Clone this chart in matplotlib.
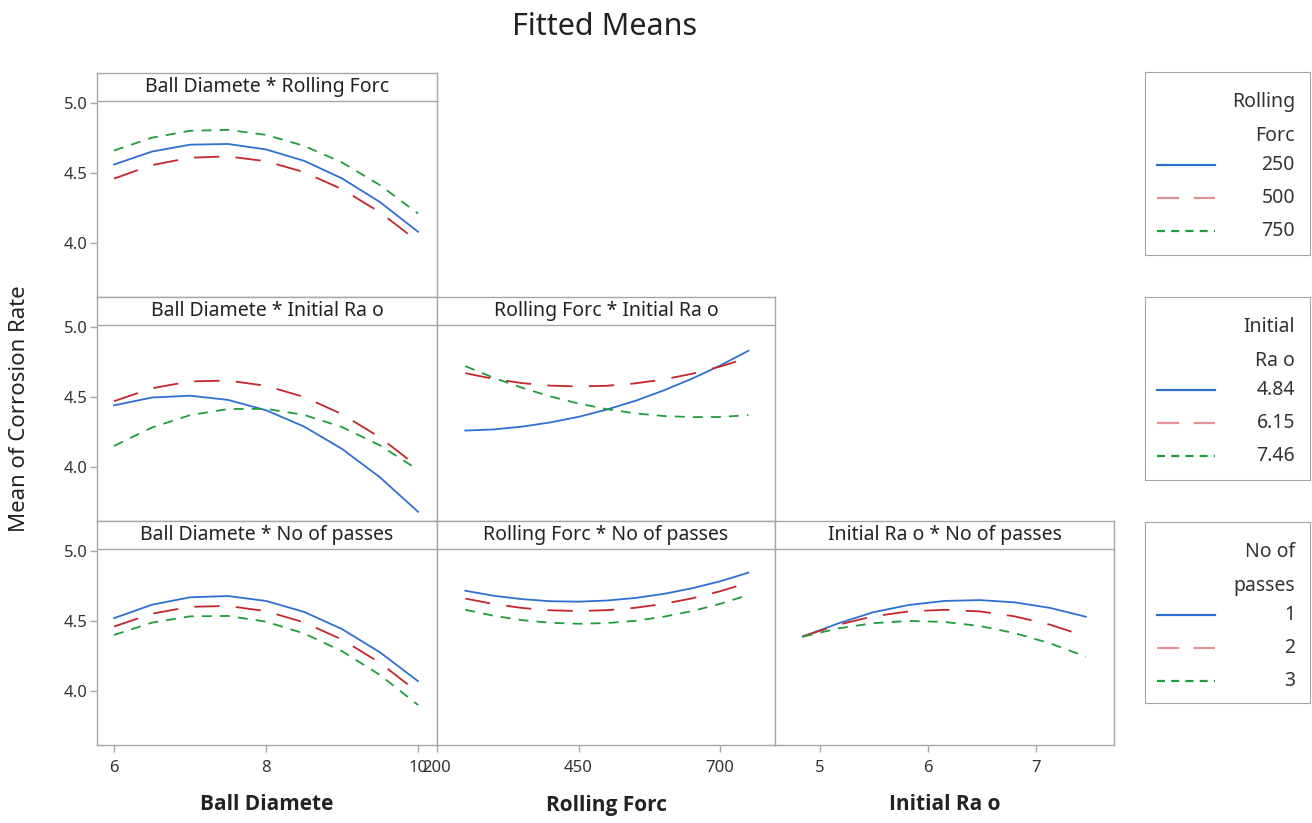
import numpy as np
import matplotlib.pyplot as plt

plt.rcParams['font.family'] = ['Noto Sans', 'DejaVu Sans']

# factor settings along each x axis
ball_d = [6.0, 6.5, 7.0, 7.5, 8.0, 8.5, 9.0, 9.5, 10.0]
rolling_f = [250, 300, 350, 400, 450, 500, 550, 600, 650, 700, 750]
init_ra = [4.84, 5.17, 5.49, 5.82, 6.15, 6.48, 6.80, 7.13, 7.46]

# legend levels
rf_levels = ['250', '500', '750']
ra_levels = ['4.84', '6.15', '7.46']
pass_levels = ['1', '2', '3']

# Ball Diamete * Rolling Forc  (250, 500, 750)
bd_rf = [
    [4.56, 4.653, 4.702, 4.707, 4.668, 4.587, 4.461, 4.292, 4.08],
    [4.46, 4.556, 4.609, 4.618, 4.584, 4.506, 4.384, 4.219, 4.01],
    [4.66, 4.752, 4.801, 4.808, 4.772, 4.694, 4.575, 4.413, 4.21],
]
# Ball Diamete * Initial Ra o  (4.84, 6.15, 7.46)
bd_ra = [
    [4.44, 4.496, 4.509, 4.479, 4.405, 4.289, 4.129, 3.926, 3.68],
    [4.47, 4.562, 4.611, 4.617, 4.580, 4.500, 4.377, 4.211, 4.00],
    [4.15, 4.282, 4.370, 4.414, 4.415, 4.372, 4.285, 4.154, 3.98],
]
# Ball Diamete * No of passes  (1, 2, 3)
bd_np = [
    [4.52, 4.616, 4.669, 4.678, 4.643, 4.565, 4.442, 4.276, 4.07],
    [4.46, 4.552, 4.601, 4.607, 4.570, 4.490, 4.367, 4.201, 3.99],
    [4.40, 4.488, 4.533, 4.536, 4.495, 4.411, 4.284, 4.114, 3.90],
]
# Rolling Forc * Initial Ra o  (4.84, 6.15, 7.46)
rf_ra = [
    [4.26, 4.268, 4.288, 4.318, 4.358, 4.41, 4.472, 4.546, 4.630, 4.724, 4.83],
    [4.67, 4.629, 4.599, 4.581, 4.575, 4.580, 4.597, 4.625, 4.665, 4.717, 4.78],
    [4.72, 4.637, 4.566, 4.504, 4.453, 4.413, 4.383, 4.364, 4.356, 4.357, 4.37],
]
# Rolling Forc * No of passes  (1, 2, 3)
rf_np = [
    [4.716, 4.680, 4.656, 4.641, 4.638, 4.646, 4.664, 4.693, 4.733, 4.783, 4.845],
    [4.66, 4.621, 4.593, 4.576, 4.571, 4.577, 4.594, 4.622, 4.661, 4.712, 4.774],
    [4.58, 4.537, 4.506, 4.487, 4.48, 4.485, 4.501, 4.530, 4.570, 4.622, 4.686],
]
# Initial Ra o * No of passes  (1, 2, 3)
ra_np = [
    [4.388, 4.483, 4.562, 4.614, 4.643, 4.649, 4.633, 4.593, 4.53],
    [4.39, 4.473, 4.533, 4.568, 4.58, 4.568, 4.533, 4.473, 4.39],
    [4.388, 4.447, 4.484, 4.500, 4.493, 4.464, 4.413, 4.340, 4.245],
]

W, H = 1312, 823
grey = '#a6a6a6'
colors = ['#2f6fd2', '#c3262c', '#1f9c3c']
styles = [dict(ls='-'), dict(dashes=(14, 9)), dict(dashes=(5.5, 4.5))]
key_styles = [dict(ls='-'), dict(dashes=(10, 6.5)), dict(dashes=(3.6, 2.8))]

fig = plt.figure(figsize=(W / 100, H / 100), dpi=100)


def px_box(x0, y0, x1, y1):
    return [x0 / W, 1 - y1 / H, (x1 - x0) / W, (y1 - y0) / H]


cols = [(97, 437), (437, 775), (775, 1114)]
rows = [(73, 297), (297, 521), (521, 745)]
xlims = [(5.776, 10.25), (200, 797), (4.583, 7.72)]
xticks = [[6, 8, 10], [200, 450, 700], [5, 6, 7]]
xvals = [ball_d, rolling_f, init_ra]

panels = [
    (0, 0, bd_rf, 'Ball Diamete * Rolling Forc'),
    (1, 0, bd_ra, 'Ball Diamete * Initial Ra o'),
    (1, 1, rf_ra, 'Rolling Forc * Initial Ra o'),
    (2, 0, bd_np, 'Ball Diamete * No of passes'),
    (2, 1, rf_np, 'Rolling Forc * No of passes'),
    (2, 2, ra_np, 'Initial Ra o * No of passes'),
]

for r, c, series, title in panels:
    (x0, x1), (y0, y1) = cols[c], rows[r]
    ax = fig.add_axes(px_box(x0, y0, x1, y1))
    for ys, col, st in zip(series, colors, styles):
        ax.plot(xvals[c], ys, color=col, lw=1.3, **st)
    ax.set_xlim(*xlims[c])
    ax.set_ylim(3.614, 5.214)
    for s in ax.spines.values():
        s.set_color(grey)
        s.set_linewidth(1.0)
    # header strip
    ax.plot([0, 1], [0.875, 0.875], transform=ax.transAxes, color=grey,
            lw=1.0, clip_on=False)
    ax.text(0.5, 0.9375, title, transform=ax.transAxes, ha='center',
            va='center', fontsize=14, color='#222222')
    ax.tick_params(colors=grey, labelcolor='#333333', labelsize=12,
                   length=5, width=1)
    if c == 0:
        ax.set_yticks([4.0, 4.5, 5.0])
        ax.set_yticklabels(['4.0', '4.5', '5.0'])
        ax.tick_params(axis='y', pad=1.5)
    else:
        ax.set_yticks([])
    if r == 2:
        ax.set_xticks(xticks[c])
        ax.tick_params(axis='x', pad=6)
    else:
        ax.set_xticks([])

# legends on the right
legends = [
    (72, 255, ['Rolling', 'Forc'], rf_levels),
    (297, 480, ['Initial', 'Ra o'], ra_levels),
    (522, 703, ['No of', 'passes'], pass_levels),
]
for top, bottom, head, levels in legends:
    lx = fig.add_axes(px_box(1145, top, 1310, bottom))
    lx.set_xlim(1145, 1310)
    lx.set_ylim(bottom, top)
    lx.set_xticks([])
    lx.set_yticks([])
    for s in lx.spines.values():
        s.set_color(grey)
    for i, t in enumerate(head):
        lx.text(1295, top + 30 + 34 * i, t, ha='right', va='center',
                fontsize=14, color='#333333')
    for i, lev in enumerate(levels):
        yy = top + 93 + 33 * i
        lx.plot([1157, 1215], [yy, yy], color=colors[i], lw=1.6,
                alpha=0.5 if i == 1 else 1.0, **key_styles[i])
        lx.text(1295, yy, lev, ha='right', va='center', fontsize=14,
                color='#333333')

fig.text(605 / W, 1 - 27 / H, 'Fitted Means', ha='center', va='center',
         fontsize=22, color='#222222')
fig.text(20 / W, 1 - 409 / H, 'Mean of Corrosion Rate', rotation=90,
         ha='center', va='center', fontsize=16, color='#222222')
for (x0, x1), lab in zip(cols, ['Ball Diamete', 'Rolling Forc', 'Initial Ra o']):
    fig.text((x0 + x1) / 2 / W, 1 - 805 / H, lab, ha='center', va='center',
             fontsize=15, fontweight='bold', color='#222222',
             family=['Open Sans', 'DejaVu Sans'])

fig.savefig('out.png', dpi=100)
